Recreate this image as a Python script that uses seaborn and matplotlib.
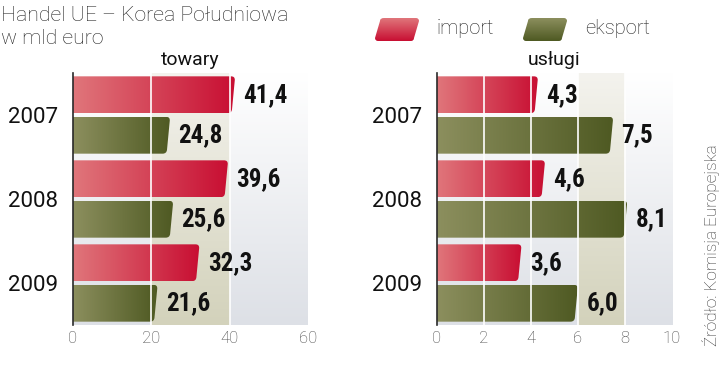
import numpy as np
import pandas as pd
import seaborn as sns
import matplotlib.pyplot as plt
from matplotlib.path import Path
from matplotlib.patches import PathPatch
from matplotlib.colors import LinearSegmentedColormap

# data (mld euro)
years = ['2007', '2008', '2009']
series = ['import', 'eksport']
towary_import = [41.4, 39.6, 32.3]
towary_eksport = [24.8, 25.6, 21.6]
uslugi_import = [4.3, 4.6, 3.6]
uslugi_eksport = [7.5, 8.1, 6.0]

towary_ticks = [0, 20, 40, 60]
uslugi_ticks = [0, 2, 4, 6, 8, 10]

sns.set_theme(style='white')
plt.rcParams['font.family'] = ['Roboto', 'DejaVu Sans']

cmap_import = LinearSegmentedColormap.from_list('imp', ['#e0767b', '#c80e32'])
cmap_eksport = LinearSegmentedColormap.from_list('eks', ['#8c8f5e', '#4e5922'])
cmap_back = LinearSegmentedColormap.from_list('back', ['#ffffff', '#dde0e6'])
cmap_band = LinearSegmentedColormap.from_list('band', ['#f4f3ee', '#d3d2bb'])
grad_h = np.linspace(0, 1, 256).reshape(1, -1)
grad_v = np.linspace(0, 1, 256).reshape(-1, 1)


def make_df(imp, eks):
    return pd.DataFrame({
        'rok': years * 2,
        'kierunek': ['import'] * 3 + ['eksport'] * 3,
        'wartosc': imp + eks,
    })


def slanted_path(x0, v, yt, yb, slant, rx, ry):
    h = yb - yt
    xb = v - slant
    verts = [(x0, yt), (v - rx, yt), (v, yt), (v - slant * ry / h, yt + ry),
             (xb + slant * ry / h, yb - ry), (xb, yb), (xb - rx, yb), (x0, yb), (x0, yt)]
    codes = [Path.MOVETO, Path.LINETO, Path.CURVE3, Path.CURVE3,
             Path.LINETO, Path.CURVE3, Path.CURVE3, Path.LINETO, Path.CLOSEPOLY]
    return Path(verts, codes)


def panel(ax, imp, eks, ticks, band, title):
    df = make_df(imp, eks)
    sns.barplot(data=df, y='rok', x='wartosc', hue='kierunek', hue_order=series,
                orient='h', width=0.964, gap=0.09, palette=['#c80e32', '#4e5922'],
                legend=False, ax=ax)
    xmax = ticks[-1]
    ax.set_xlim(0, xmax)
    ax.set_ylim(2.5, -0.5)
    ax.set_xticks(ticks)
    ax.set_xlabel('')
    ax.set_ylabel('')

    # background gradient + band
    ax.imshow(grad_v, cmap=cmap_back, aspect='auto', extent=(0, xmax, 2.5, -0.5),
              zorder=0, interpolation='bicubic')
    ax.imshow(grad_v, cmap=cmap_band, aspect='auto', extent=(band[0], band[1], 2.5, -0.5),
              zorder=0.5, interpolation='bicubic')

    px_x = 235 / xmax
    slant = 3.5 / px_x
    rx = 4 / px_x
    ry = 4 / 84
    for cont, cmap in zip(ax.containers, [cmap_import, cmap_eksport]):
        for rect in cont:
            rect.set_visible(False)
            x0 = rect.get_x()
            v = x0 + rect.get_width()
            yt = rect.get_y()
            yb = yt + rect.get_height()
            pp = PathPatch(slanted_path(x0, v, yt, yb, slant, rx, ry),
                           facecolor='none', edgecolor='none')
            ax.add_patch(pp)
            im = ax.imshow(grad_h, cmap=cmap, aspect='auto', extent=(x0, v, yb, yt),
                           zorder=2, interpolation='bicubic')
            im.set_clip_path(pp)
        labels = [f'{r.get_width():.1f}'.replace('.', ',') for r in cont]
        texts = ax.bar_label(cont, labels=labels, padding=6, fontsize=18, fontweight='bold',
                             family=['Roboto Condensed', 'Roboto', 'DejaVu Sans'],
                             color='#111111')
        for t in texts:
            t.set_zorder(6)

    for t in ticks[1:-1]:
        ax.axvline(t, color='white', lw=1.2, zorder=3)

    ax.set_xlim(0, xmax)
    ax.set_ylim(2.5, -0.5)
    for s in ['top', 'right', 'bottom']:
        ax.spines[s].set_visible(False)
    ax.spines['left'].set_color('#2a2a2a')
    ax.spines['left'].set_linewidth(1.2)
    ax.spines['left'].set_zorder(4)
    ax.tick_params(axis='both', length=0)
    ax.tick_params(axis='y', pad=11, labelsize=16, labelcolor='#111111')
    ax.tick_params(axis='x', pad=4, labelsize=12, labelcolor='#444444')
    for lab in ax.get_xticklabels():
        lab.set_fontweight('light')
    ax.set_title(title, fontsize=14, fontweight='normal', color='#111111', pad=6)


fig = plt.figure(figsize=(7.2, 3.77), dpi=100)
ax1 = fig.add_axes([73 / 720, 1 - 325 / 377, 235 / 720, 252 / 377])
ax2 = fig.add_axes([437 / 720, 1 - 325 / 377, 235 / 720, 252 / 377])
panel(ax1, towary_import, towary_eksport, towary_ticks, (20, 40), 'towary')
panel(ax2, uslugi_import, uslugi_eksport, uslugi_ticks, (6, 8), 'usługi')

fig.text(0.002, 0.985, 'Handel UE – Korea Południowa\nw mld euro', ha='left', va='top',
         fontsize=15.3, fontweight='light', color='#222222', linespacing=1.3)

# legend: slanted gradient swatches
for x_px, cmap, name in [(375, cmap_import, 'import'), (523, cmap_eksport, 'eksport')]:
    lax = fig.add_axes([x_px / 720, 1 - 41 / 377, 44 / 720, 23 / 377])
    lax.set_xlim(0, 44)
    lax.set_ylim(0, 23)
    lax.axis('off')
    verts = [(3, 0), (0, 0), (0, 3), (5, 20), (5, 23), (9, 23), (41, 23), (44, 23), (44, 20),
             (39, 3), (39, 0), (36, 0), (3, 0)]
    codes = [Path.MOVETO, Path.CURVE3, Path.CURVE3, Path.LINETO, Path.CURVE3, Path.CURVE3,
             Path.LINETO, Path.CURVE3, Path.CURVE3, Path.LINETO, Path.CURVE3, Path.CURVE3,
             Path.CLOSEPOLY]
    pp = PathPatch(Path(verts, codes), facecolor='none', edgecolor='none')
    lax.add_patch(pp)
    im = lax.imshow(grad_v, cmap=cmap.reversed(), aspect='auto', extent=(0, 44, 0, 23),
                    origin='lower', interpolation='bicubic')
    im.set_clip_path(pp)
    fig.text((x_px + 62) / 720, 1 - 29 / 377, name, ha='left', va='center',
             fontsize=14.5, fontweight='light', color='#222222')

fig.text(0.987, 0.35, 'Źródło: Komisja Europejska', rotation=90, ha='center', va='center',
         fontsize=12.3, fontweight='light', color='#333333')

fig.savefig('out.png', dpi=100)
